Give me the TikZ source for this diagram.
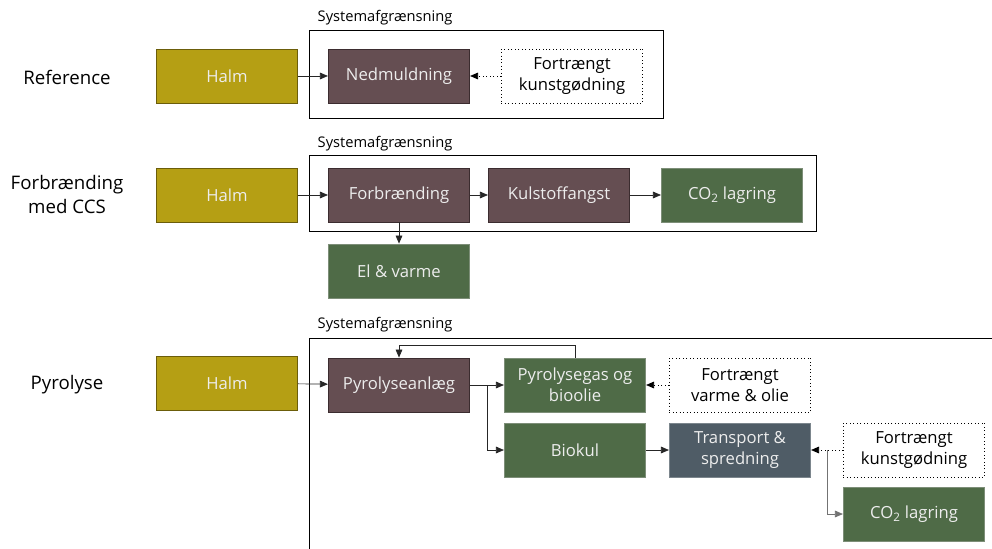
\documentclass[tikz,border=0pt]{standalone}
\usepackage{fontspec}
\setmainfont{Open Sans}
\usetikzlibrary{arrows.meta,positioning}
\definecolor{HalmGold}{HTML}{B59F14}
\definecolor{HalmEdge}{HTML}{6B5D0A}
\definecolor{ProcPlum}{HTML}{654E52}
\definecolor{ProcEdge}{HTML}{3B2C2F}
\definecolor{OutGreen}{HTML}{4F6B47}
\definecolor{OutEdge}{HTML}{7D8E78}
\definecolor{TranSlate}{HTML}{4F5C66}
\definecolor{TranEdge}{HTML}{7C868D}
\definecolor{LineInk}{HTML}{262626}

\begin{document}
\begin{tikzpicture}[x=0.75pt,y=-0.75pt,
    box/.style={
      draw=#1,
      line width=0.6pt,
      minimum width=106pt,
      minimum height=40.5pt,
      inner sep=1pt,
      text=white!93!black,
      align=center,
      font=\fontsize{12.5}{16}\selectfont
    },
    halm/.style={box=HalmEdge,fill=HalmGold},
    proc/.style={box=ProcEdge,fill=ProcPlum},
    outp/.style={box=OutEdge,fill=OutGreen},
    tran/.style={box=TranEdge,fill=TranSlate},
    avoided/.style={
      draw=black,
      dotted,
      line width=0.6pt,
      minimum width=106pt,
      minimum height=40.5pt,
      inner sep=1pt,
      align=center,
      font=\fontsize{12.5}{16}\selectfont
    },
    rowlabel/.style={
      font=\fontsize{14}{18}\selectfont,
      align=center
    },
    syslabel/.style={
      font=\fontsize{11}{13}\selectfont,
      anchor=west
    },
    flow/.style={
      draw=LineInk,
      line width=0.5pt,
      -{Triangle[length=6pt,width=5pt]}
    },
    dflow/.style={
      draw=black,
      dotted,
      line width=0.6pt,
      -{Triangle[length=6pt,width=5pt]}
    }
  ]
  \useasboundingbox (0,0) rectangle (992,549);

  % Reference
  \node[rowlabel] (lblref) at (67,77) {Reference};
  \node[halm] (halmA) at (227,76) {Halm};
  \draw[line width=0.75pt] (309,31) rectangle (663,119);
  \node[syslabel] (sysA) at (313,18) {Systemafgrænsning};
  \node[proc] (nedm) at (399,76) {Nedmuldning};
  \node[avoided] (fortrA) at (572,76) {Fortrængt\\kunstgødning};
  \draw[flow] (halmA) -- (nedm);
  \draw[dflow] (fortrA) -- (nedm);

  % Forbraending med CCS
  \node[rowlabel] (lblccs) at (67,195) {Forbrænding\\med CCS};
  \node[halm] (halmB) at (227,195) {Halm};
  \draw[line width=0.75pt] (309,156) rectangle (816,231);
  \node[syslabel] (sysB) at (313,144) {Systemafgrænsning};
  \node[proc] (forbr) at (399,195) {Forbrænding};
  \node[proc] (kulst) at (559,195) {Kulstoffangst};
  \node[outp] (co2B) at (732,195) {CO\textsubscript{2} lagring};
  \node[outp] (elvarme) at (399,271) {El \& varme};
  \draw[flow] (halmB) -- (forbr);
  \draw[flow] (forbr) -- (kulst);
  \draw[flow] (kulst) -- (co2B);
  \draw[flow] (forbr) -- (elvarme);

  % Pyrolyse
  \node[rowlabel] (lblpyr) at (67,385) {Pyrolyse};
  \node[halm] (halmC) at (227,383) {Halm};
  \draw[line width=0.75pt] (309,549) -- (309,338) -- (992,338);
  \node[syslabel] (sysC) at (313,325) {Systemafgrænsning};
  \node[proc] (pyro) at (399,385) {Pyrolyseanlæg};
  \node[outp] (gas) at (575,385) {Pyrolysegas og\\bioolie};
  \node[outp] (biokul) at (575,450) {Biokul};
  \node[tran] (transp) at (740,450) {Transport \&\\spredning};
  \node[avoided] (fortrB) at (740,385) {Fortrængt\\varme \& olie};
  \node[avoided] (fortrC) at (914,450) {Fortrængt\\kunstgødning};
  \node[outp] (co2C) at (914,514) {CO\textsubscript{2} lagring};
  \coordinate (split) at (487,385);
  \coordinate (loopR) at (575,345);
  \coordinate (loopL) at (399,345);
  \coordinate (drop) at (827,450);
  \draw[flow] (halmC) -- (pyro);
  \draw[flow] (pyro) -- (gas);
  \draw[flow] (split) |- (biokul);
  \draw[flow] (gas.north) -- (loopR) -- (loopL) -- (pyro.north);
  \draw[dflow] (fortrB) -- (gas);
  \draw[flow] (biokul) -- (transp);
  \draw[dflow] (fortrC) -- (transp);
  \draw[flow,draw=black!55] (drop) |- (co2C);

\end{tikzpicture}
\end{document}
